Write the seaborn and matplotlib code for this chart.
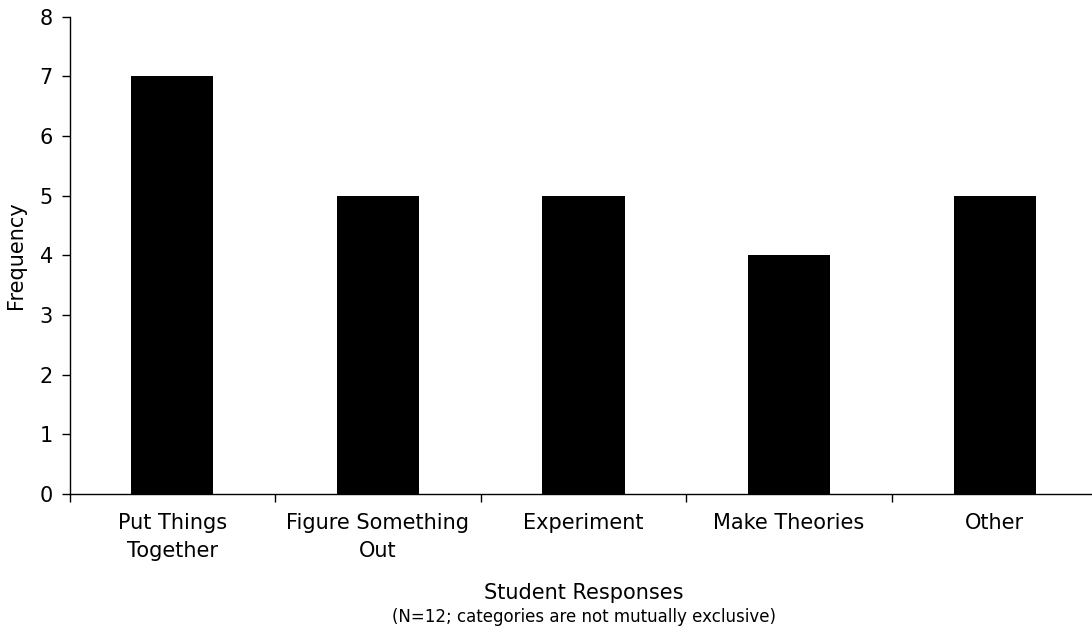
import matplotlib
matplotlib.use("Agg")
import matplotlib.pyplot as plt
import seaborn as sns
import pandas as pd
from matplotlib.ticker import FixedLocator

categories = ["Put Things\nTogether", "Figure Something\nOut", "Experiment",
              "Make Theories", "Other"]
frequency = [7, 5, 5, 4, 5]

sns.set_theme(style="white")
plt.rcParams["font.family"] = ["DejaVu Sans"]
plt.rcParams["text.color"] = "black"
plt.rcParams["axes.labelcolor"] = "black"
plt.rcParams["xtick.color"] = "black"
plt.rcParams["ytick.color"] = "black"

df = pd.DataFrame({"Response": categories, "Frequency": frequency})

fig = plt.figure(figsize=(10.92, 6.34), dpi=100)
ax = fig.add_axes([69.5 / 1092, (634 - 494) / 634, 1028 / 1092, 477.3 / 634])

sns.barplot(data=df, x="Response", y="Frequency", color="black",
            width=0.4, saturation=1, linewidth=0, ax=ax)

ax.set_ylim(0, 8)
ax.set_xlim(-0.5, len(categories) - 0.5)
ax.set_yticks(range(0, 9))
ax.tick_params(axis="y", which="major", direction="out", length=6, width=1,
               colors="black", labelsize=15, pad=6, left=True)
ax.tick_params(axis="x", which="major", length=0, labelsize=15, pad=14,
               colors="black")
ax.xaxis.set_minor_locator(FixedLocator([i - 0.5 for i in range(len(categories) + 1)]))
ax.tick_params(axis="x", which="minor", direction="out", length=6, width=1,
               color="black", bottom=True)
for lbl in ax.get_xticklabels():
    lbl.set_linespacing(1.45)

for side in ["top", "right"]:
    ax.spines[side].set_visible(False)
for side in ["left", "bottom"]:
    ax.spines[side].set_color("black")
    ax.spines[side].set_linewidth(1)

ax.set_ylabel("Frequency", fontsize=15, labelpad=10, color="black")
ax.set_xlabel("Student Responses", fontsize=15, labelpad=16, color="black")
fig.text(584 / 1092, 1 - 617 / 634, "(N=12; categories are not mutually exclusive)",
         ha="center", va="center", fontsize=12, color="black")

fig.savefig("out.png", dpi=100)
